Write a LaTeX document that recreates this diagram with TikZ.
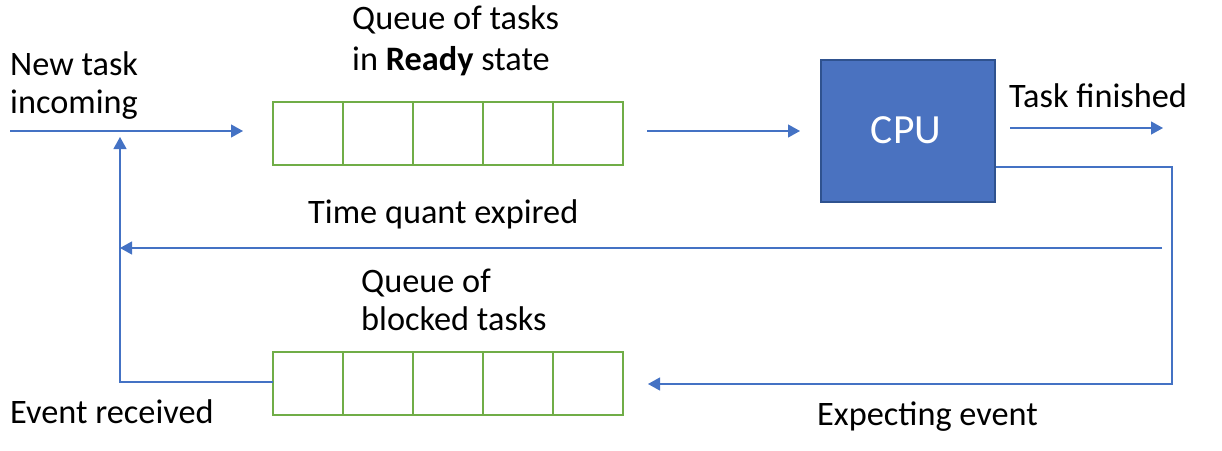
\documentclass[tikz,border=0pt]{standalone}
\usepackage{fontspec}
\setmainfont{Carlito}
\usetikzlibrary{arrows.meta}
\definecolor{ablue}{HTML}{4472C4}
\definecolor{cpufill}{HTML}{4A72C0}
\definecolor{agreen}{HTML}{70AD47}
\definecolor{cpuedge}{HTML}{2F528F}
\tikzset{
  conn/.style={draw=ablue, line width=1.2pt},
  arr/.style={conn, -{Triangle[length=12pt,width=13pt]}},
  cell/.style={draw=agreen, line width=1.6pt, minimum width=70pt, minimum height=63pt, inner sep=0pt, outer sep=0pt},
  lbl/.style={font=\fontsize{34.3}{38}\selectfont, inner sep=0pt, anchor=base west},
  cpubox/.style={draw=cpuedge, fill=cpufill, line width=1.6pt, minimum width=174pt, minimum height=142pt, inner sep=0pt},
  cputext/.style={text=white, font=\fontsize{41.5}{44}\selectfont, inner sep=0pt, anchor=base}
}
\begin{document}
\begin{tikzpicture}[x=1pt,y=-1pt]
\useasboundingbox (0,0) rectangle (1222,450);
% queues
\foreach \i in {0,...,4}{
  \node[cell] (r\i) at (308+70*\i,133.5) {};
  \node[cell] (b\i) at (308+70*\i,383.5) {};
}
\node[cpubox] (cpu) at (908,131) {};
\node[cputext] (cpulbl) at (906,143) {CPU};
% labels
\node[lbl] (lready1) at (352,29) {Queue of tasks};
\node[lbl] (lready2) at (352,70) {in \textbf{Ready} state};
\node[lbl] (lnew1) at (10,75) {New task};
\node[lbl] (lnew2) at (10,113) {incoming};
\node[lbl] (lfin) at (1009,107) {Task finished};
\node[lbl] (ltq) at (308,223) {Time quant expired};
\node[lbl] (lblk1) at (361,292) {Queue of};
\node[lbl] (lblk2) at (361,330) {blocked tasks};
\node[lbl] (lev) at (10,423) {Event received};
\node[lbl] (lexp) at (817,425) {Expecting event};
% coordinates
\coordinate (newin) at (10,131);
\coordinate (newend) at (243,131);
\coordinate (rq) at (647,131);
\coordinate (rqend) at (800,131);
\coordinate (fin0) at (1010,128);
\coordinate (fin1) at (1163,128);
\coordinate (c1) at (1172,167);
\coordinate (c2) at (1172,384);
\coordinate (bqend) at (648,384);
\coordinate (tq0) at (1162,248);
\coordinate (tq1) at (120,248);
\coordinate (ev1) at (120,382);
\coordinate (ev2) at (120,137);
% connectors
\draw[arr] (newin) -- (newend);
\draw[arr] (rq) -- (rqend);
\draw[arr] (fin0) -- (fin1);
\draw[arr] (cpu.east |- c1) -- (c1) -- (c2) -- (bqend);
\draw[arr] (tq0) -- (tq1);
\draw[arr] (b0.west |- ev1) -- (ev1) -- (ev2);
\end{tikzpicture}
\end{document}
